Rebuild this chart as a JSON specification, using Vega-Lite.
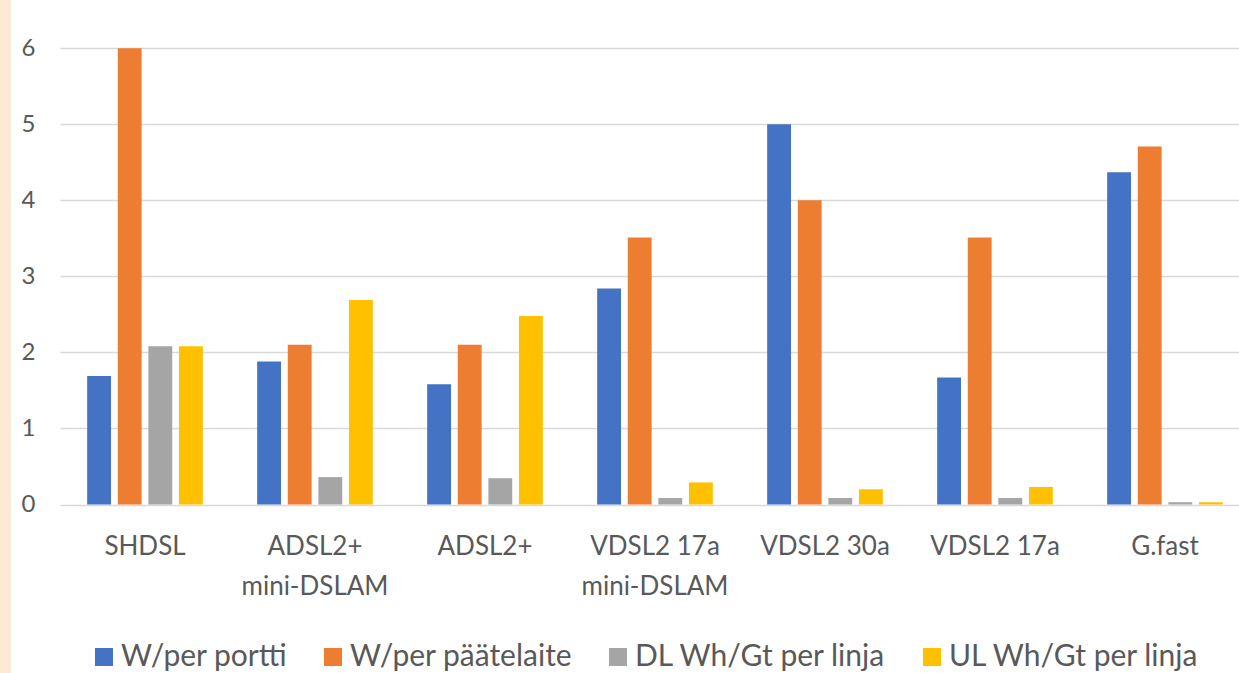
{
  "$schema": "https://vega.github.io/schema/vega-lite/v6.json",
  "autosize": {"type": "none"},
  "padding": {"left": 11, "top": 0, "right": 0, "bottom": 0},
  "width": 1228,
  "height": 673,
  "background": "#FCEAD4",
  "config": {
    "view": {"fill": "#FFFFFF", "stroke": null},
    "font": "Lato",
    "axis": {"labelColor": "#595959", "labelFont": "Lato"},
    "legend": {"labelColor": "#595959", "labelFont": "Lato"}
  },
  "data": {
    "values": [
      {"tekniikka": "SHDSL", "sarja": "W/per portti", "arvo": 1.69},
      {"tekniikka": "SHDSL", "sarja": "W/per päätelaite", "arvo": 6.0},
      {"tekniikka": "SHDSL", "sarja": "DL Wh/Gt per linja", "arvo": 2.08},
      {"tekniikka": "SHDSL", "sarja": "UL Wh/Gt per linja", "arvo": 2.08},
      {"tekniikka": "ADSL2+ mini-DSLAM", "sarja": "W/per portti", "arvo": 1.88},
      {"tekniikka": "ADSL2+ mini-DSLAM", "sarja": "W/per päätelaite", "arvo": 2.10},
      {"tekniikka": "ADSL2+ mini-DSLAM", "sarja": "DL Wh/Gt per linja", "arvo": 0.36},
      {"tekniikka": "ADSL2+ mini-DSLAM", "sarja": "UL Wh/Gt per linja", "arvo": 2.69},
      {"tekniikka": "ADSL2+", "sarja": "W/per portti", "arvo": 1.58},
      {"tekniikka": "ADSL2+", "sarja": "W/per päätelaite", "arvo": 2.10},
      {"tekniikka": "ADSL2+", "sarja": "DL Wh/Gt per linja", "arvo": 0.345},
      {"tekniikka": "ADSL2+", "sarja": "UL Wh/Gt per linja", "arvo": 2.48},
      {"tekniikka": "VDSL2 17a mini-DSLAM", "sarja": "W/per portti", "arvo": 2.84},
      {"tekniikka": "VDSL2 17a mini-DSLAM", "sarja": "W/per päätelaite", "arvo": 3.51},
      {"tekniikka": "VDSL2 17a mini-DSLAM", "sarja": "DL Wh/Gt per linja", "arvo": 0.085},
      {"tekniikka": "VDSL2 17a mini-DSLAM", "sarja": "UL Wh/Gt per linja", "arvo": 0.29},
      {"tekniikka": "VDSL2 30a", "sarja": "W/per portti", "arvo": 5.0},
      {"tekniikka": "VDSL2 30a", "sarja": "W/per päätelaite", "arvo": 4.0},
      {"tekniikka": "VDSL2 30a", "sarja": "DL Wh/Gt per linja", "arvo": 0.085},
      {"tekniikka": "VDSL2 30a", "sarja": "UL Wh/Gt per linja", "arvo": 0.2},
      {"tekniikka": "VDSL2 17a", "sarja": "W/per portti", "arvo": 1.67},
      {"tekniikka": "VDSL2 17a", "sarja": "W/per päätelaite", "arvo": 3.51},
      {"tekniikka": "VDSL2 17a", "sarja": "DL Wh/Gt per linja", "arvo": 0.085},
      {"tekniikka": "VDSL2 17a", "sarja": "UL Wh/Gt per linja", "arvo": 0.23},
      {"tekniikka": "G.fast", "sarja": "W/per portti", "arvo": 4.37},
      {"tekniikka": "G.fast", "sarja": "W/per päätelaite", "arvo": 4.71},
      {"tekniikka": "G.fast", "sarja": "DL Wh/Gt per linja", "arvo": 0.03},
      {"tekniikka": "G.fast", "sarja": "UL Wh/Gt per linja", "arvo": 0.03}
    ]
  },
  "mark": {"type": "bar"},
  "encoding": {
    "x": {
      "field": "tekniikka",
      "type": "nominal",
      "sort": null,
      "title": null,
      "scale": {"range": [49, 1239], "paddingInner": 0.28, "paddingOuter": 0.14},
      "axis": {
        "orient": "bottom",
        "offset": -168.5,
        "domain": false,
        "ticks": false,
        "labelAngle": 0,
        "labelFontSize": 26,
        "labelLineHeight": 40,
        "labelPadding": 29,
        "labelBaseline": "top",
        "labelExpr": "split(replace(datum.label, ' mini-', '|mini-'), '|')"
      }
    },
    "xOffset": {
      "field": "sarja",
      "type": "nominal",
      "sort": ["W/per portti", "W/per päätelaite", "DL Wh/Gt per linja", "UL Wh/Gt per linja"],
      "scale": {"paddingInner": 0.22, "paddingOuter": 0.11}
    },
    "y": {
      "field": "arvo",
      "type": "quantitative",
      "title": null,
      "scale": {"domain": [0, 6], "nice": false, "range": [504.5, 48.3]},
      "axis": {
        "values": [0, 1, 2, 3, 4, 5, 6],
        "domain": false,
        "ticks": false,
        "tickSize": 0,
        "labelPadding": -24,
        "labelAlign": "right",
        "labelFontSize": 24,
        "gridColor": "#D9D9D9",
        "gridWidth": 1.5
      }
    },
    "color": {
      "field": "sarja",
      "type": "nominal",
      "scale": {
        "domain": ["W/per portti", "W/per päätelaite", "DL Wh/Gt per linja", "UL Wh/Gt per linja"],
        "range": ["#4472C4", "#ED7D31", "#A5A5A5", "#FFC000"]
      },
      "legend": {
        "title": null,
        "orient": "none",
        "direction": "horizontal",
        "legendX": 78,
        "legendY": 642,
        "symbolType": "square",
        "symbolSize": 324,
        "symbolStrokeWidth": 0,
        "labelFontSize": 30,
        "labelOffset": 2,
        "columnPadding": 30,
        "labelLimit": 400
      }
    }
  }
}
